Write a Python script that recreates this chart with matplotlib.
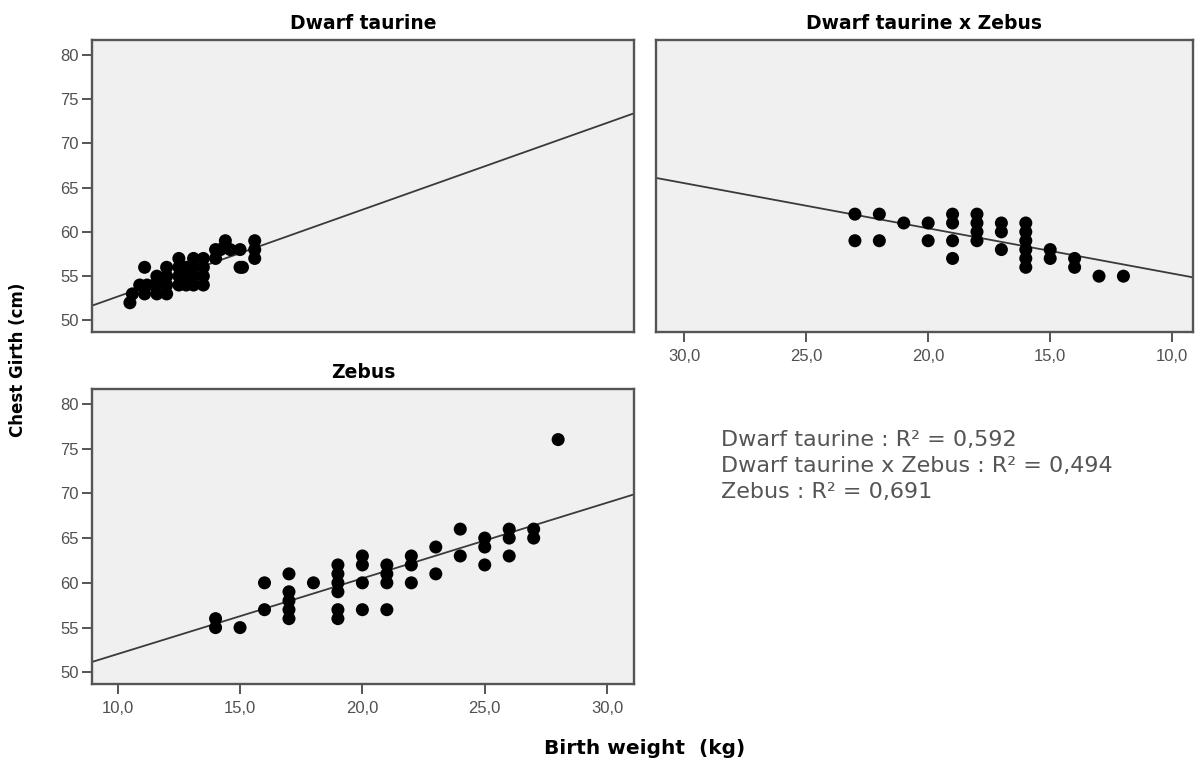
import numpy as np
import matplotlib.pyplot as plt
from matplotlib.ticker import FuncFormatter

# Dwarf taurine: birth weight (kg), chest girth (cm)
dt_weight = [10.5, 10.6, 10.9, 11.1, 11.2, 11.1,
             11.6, 11.6, 11.6, 11.5,
             12.0, 12.0, 12.0, 12.0,
             12.5, 12.5, 12.5, 12.5,
             12.8, 12.8, 12.8,
             13.1, 13.1, 13.1, 13.1,
             13.5, 13.5, 13.5, 13.5,
             14.0, 14.0, 14.2, 14.4, 14.6,
             15.0, 15.0, 15.1,
             15.6, 15.6, 15.6]
dt_girth = [52, 53, 54, 56, 54, 53,
            55, 54, 53, 54,
            56, 55, 54, 53,
            57, 56, 55, 54,
            56, 55, 54,
            57, 56, 55, 54,
            57, 56, 55, 54,
            58, 57, 58, 59, 58,
            58, 56, 56,
            59, 58, 57]

# Dwarf taurine x Zebus
dz_weight = [23, 23, 22, 22, 21, 20, 20,
             19, 19, 19, 19,
             18, 18, 18, 18,
             17, 17, 17,
             16, 16, 16, 16, 16, 16,
             15, 15, 14, 14, 13, 12]
dz_girth = [62, 59, 62, 59, 61, 61, 59,
            62, 61, 59, 57,
            62, 61, 60, 59,
            61, 60, 58,
            61, 60, 59, 58, 57, 56,
            58, 57, 57, 56, 55, 55]

# Zebus
zb_weight = [14, 14, 15, 16, 16,
             17, 17, 17, 17, 17, 18,
             19, 19, 19, 19, 19, 19,
             20, 20, 20, 20,
             21, 21, 21, 21,
             22, 22, 22, 23, 23,
             24, 24, 25, 25, 25,
             26, 26, 26, 27, 27, 28]
zb_girth = [56, 55, 55, 60, 57,
            61, 59, 58, 57, 56, 60,
            62, 61, 60, 59, 57, 56,
            63, 62, 60, 57,
            62, 61, 60, 57,
            63, 62, 60, 64, 61,
            66, 63, 65, 64, 62,
            66, 65, 63, 66, 65, 76]

# fit lines: intercept, slope
dt_fit = [42.9, 0.98]
dz_fit = [50.2, 0.51]
zb_fit = [43.6, 0.845]

titles = ["Dwarf taurine", "Dwarf taurine x Zebus", "Zebus"]
r2_text = ["Dwarf taurine : R\u00b2 = 0,592",
           "Dwarf taurine x Zebus : R\u00b2 = 0,494",
           "Zebus : R\u00b2 = 0,691"]
y_ticks = [50, 55, 60, 65, 70, 75, 80]
x_ticks = [10, 15, 20, 25, 30]

W, H = 1198, 765
fig = plt.figure(figsize=(W / 100, H / 100), dpi=100)

def box(x0, y0, x1, y1):
    return [x0 / W, 1 - y1 / H, (x1 - x0) / W, (y1 - y0) / H]

ax_tl = fig.add_axes(box(92, 40, 634, 332))
ax_tr = fig.add_axes(box(656, 40, 1193, 332))
ax_bl = fig.add_axes(box(92, 389, 634, 684))

tick_font = dict(family="Liberation Sans", size=12, color="#505050")
comma_fmt = FuncFormatter(lambda v, p: f"{v:.1f}".replace(".", ","))

panels = [(ax_tl, dt_weight, dt_girth, dt_fit, (8.95, 31.1)),
          (ax_tr, dz_weight, dz_girth, dz_fit, (31.15, 9.15)),
          (ax_bl, zb_weight, zb_girth, zb_fit, (8.95, 31.1))]

for (ax, xs, ys, fit, xlim), title in zip(panels, titles):
    ax.set_facecolor("#f0f0f0")
    ax.set_xlim(*xlim)
    ax.set_ylim(48.7, 81.65)
    ax.axline((10, fit[0] + fit[1] * 10), slope=fit[1], color="#3a3a3a", lw=1.3, zorder=2)
    ax.scatter(xs, ys, s=88, color="black", edgecolors="none", zorder=3)
    for sp in ax.spines.values():
        sp.set_color("#555555")
        sp.set_linewidth(1.7)
    ax.set_title(title, fontsize=13.5, fontweight="bold", family="DejaVu Sans", pad=8)
    ax.set_yticks(y_ticks)
    ax.set_xticks(x_ticks)
    ax.xaxis.set_major_formatter(comma_fmt)
    ax.tick_params(length=7.5, width=1.4, color="#555555", pad=2)
    ax.tick_params(axis="x", pad=5)
    for lab in ax.get_xticklabels() + ax.get_yticklabels():
        lab.set(**tick_font)

ax_tl.tick_params(axis="x", bottom=False, labelbottom=False)
ax_tr.tick_params(axis="y", left=False, labelleft=False)

fig.text(18 / W, 1 - 360 / H, "Chest Girth (cm)", rotation=90, ha="center", va="center",
         fontsize=12, fontweight="bold", family="DejaVu Sans")
fig.text(645 / W, 1 - 748 / H, "Birth weight  (kg)", ha="center", va="center",
         fontsize=14.5, fontweight="bold", family="DejaVu Sans")

fig.text(721 / W, 1 - 430 / H, "\n".join(r2_text), ha="left", va="top",
         fontsize=16, family="DejaVu Sans", color="#555555", linespacing=1.38)

fig.savefig("out.png", dpi=100, facecolor="white")
